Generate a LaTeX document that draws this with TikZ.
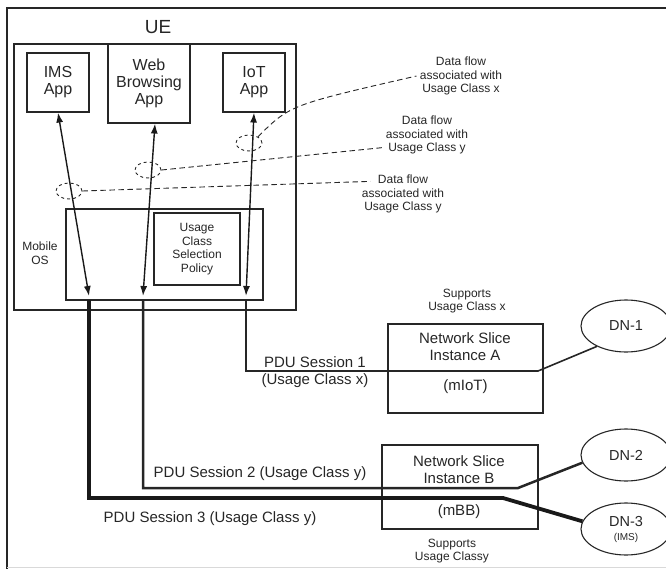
\documentclass[tikz,border=0pt]{standalone}
\usepackage{fontspec}
\setmainfont{Liberation Sans}
\usetikzlibrary{arrows.meta,positioning,shapes.geometric}
\tikzset{
  box/.style={draw=black!85, rectangle, line width=1.1pt, inner sep=0pt, align=center, text=black!85},
  apptxt/.style={font=\fontsize{16}{17}\selectfont},
  smalltxt/.style={font=\fontsize{12}{13.5}\selectfont, align=center, text=black!85},
  pdutxt/.style={font=\fontsize{15}{17}\selectfont, align=center, text=black!85},
  dn/.style={draw=black!85, ellipse, line width=1.1pt, minimum width=90pt, minimum height=52pt, inner sep=0pt, align=center, text=black!85, font=\fontsize{14.5}{15}\selectfont},
  flow/.style={draw=black!85, ellipse, dashed, line width=0.9pt, minimum width=26pt, minimum height=16pt, inner sep=0pt},
  flowline/.style={black!85, line width=0.9pt, dash pattern=on 5.5pt off 3.5pt},
  dbl/.style={{Latex[length=10pt,width=7pt]}-{Latex[length=10pt,width=7pt]}, line width=1.4pt, black!90},
  sess1/.style={line width=1.6pt, black!85},
  sess2/.style={line width=2.5pt, black!85},
  sess3/.style={line width=3.8pt, black!90},
}

\begin{document}
\begin{tikzpicture}[x=1pt,y=-1pt]
\useasboundingbox (0,0) rectangle (666,569);
% frame
\draw[black!85, line width=2.5pt] (7,569) |- (670,8);
\draw[black!15, line width=1.2pt] (7,567.5) -- (666,567.5);

% UE side
\node[box, minimum width=282, minimum height=266] (ue) at (155,177) {};
\node[font=\fontsize{19}{20}\selectfont, text=black!85] (uelbl) at (158,27) {UE};
\node[box, apptxt, minimum width=62, minimum height=59] (ims) at (58,82.5) {IMS\\App};
\node[box, apptxt, minimum width=82, minimum height=79, fill=white] (web) at (149,83.5) {Web\\Browsing\\App};
\node[box, apptxt, minimum width=62, minimum height=59] (iot) at (254,82.5) {IoT\\App};
\node[box, minimum width=197, minimum height=91] (os) at (164.5,254.5) {};
\node[smalltxt] (oslbl) at (40,253) {Mobile\\OS};
\node[box, smalltxt, minimum width=86, minimum height=72] (ucsp) at (197,249) {Usage\\Class\\Selection\\Policy};

\coordinate (p3) at (89,300);
\coordinate (p2) at (143,300);
\coordinate (p1) at (246,300);
\draw[dbl] (ims.south) -- ([yshift=4pt]p3);
\draw[dbl] ([xshift=6pt]web.south) -- ([yshift=4pt]p2);
\draw[dbl] (iot.south) -- ([yshift=4pt]p1);

% data flows
\node[flow] (fx) at (249,143) {};
\node[flow] (fy) at (148,170) {};
\node[flow] (fz) at (69,191) {};
\node[smalltxt] (dfx) at (461,76) {Data flow\\associated with\\Usage Class x};
\node[smalltxt] (dfy) at (427,135) {Data flow\\associated with\\Usage Class y};
\node[smalltxt] (dfz) at (403,194) {Data flow\\associated with\\Usage Class y};
\draw[flowline] (fx.35) .. controls (290,105) .. (dfx.west);
\draw[flowline] (fy.east) -- ([yshift=10pt]dfy.south west);
\draw[flowline] (fz.east) -- ([xshift=12pt,yshift=-10pt]dfz.north west);

% network slices
\node[box, minimum width=155, minimum height=89] (nsia) at (465.5,368.5) {};
\node[pdutxt] (nsiatxt) at (465,347) {Network Slice\\Instance A};
\node[pdutxt] (miot) at (465.5,387) {(mIoT)};
\node[smalltxt] (supa) at (467,301) {Supports\\Usage Class x};
\node[box, minimum width=156, minimum height=84] (nsib) at (460,487) {};
\node[pdutxt] (nsibtxt) at (459,470) {Network Slice\\Instance B};
\node[pdutxt] (mbb) at (459,512) {(mBB)};
\node[smalltxt] (supb) at (452,551) {Supports\\Usage Classy};

\node[dn] (dn1) at (626,326) {DN-1};
\node[dn] (dn2) at (626,455) {DN-2};
\node[dn] (dn3) at (626,529) {DN-3\\[-1pt]{\fontsize{10}{11}\selectfont (IMS)}};

% PDU sessions
\draw[sess1] (p1) |- (538,371) -- (dn1.215);
\draw[sess2] (p2) |- (518,488) -- (dn2.190);
\draw[sess3] (p3) |- (503,498) -- (dn3.170);
\node[pdutxt] (pdu1) at (315,372) {PDU Session 1\\(Usage Class x)};
\node[pdutxt] (pdu2) at (260,474) {PDU Session 2 (Usage Class y)};
\node[pdutxt] (pdu3) at (210,519) {PDU Session 3 (Usage Class y)};
\end{tikzpicture}
\end{document}
